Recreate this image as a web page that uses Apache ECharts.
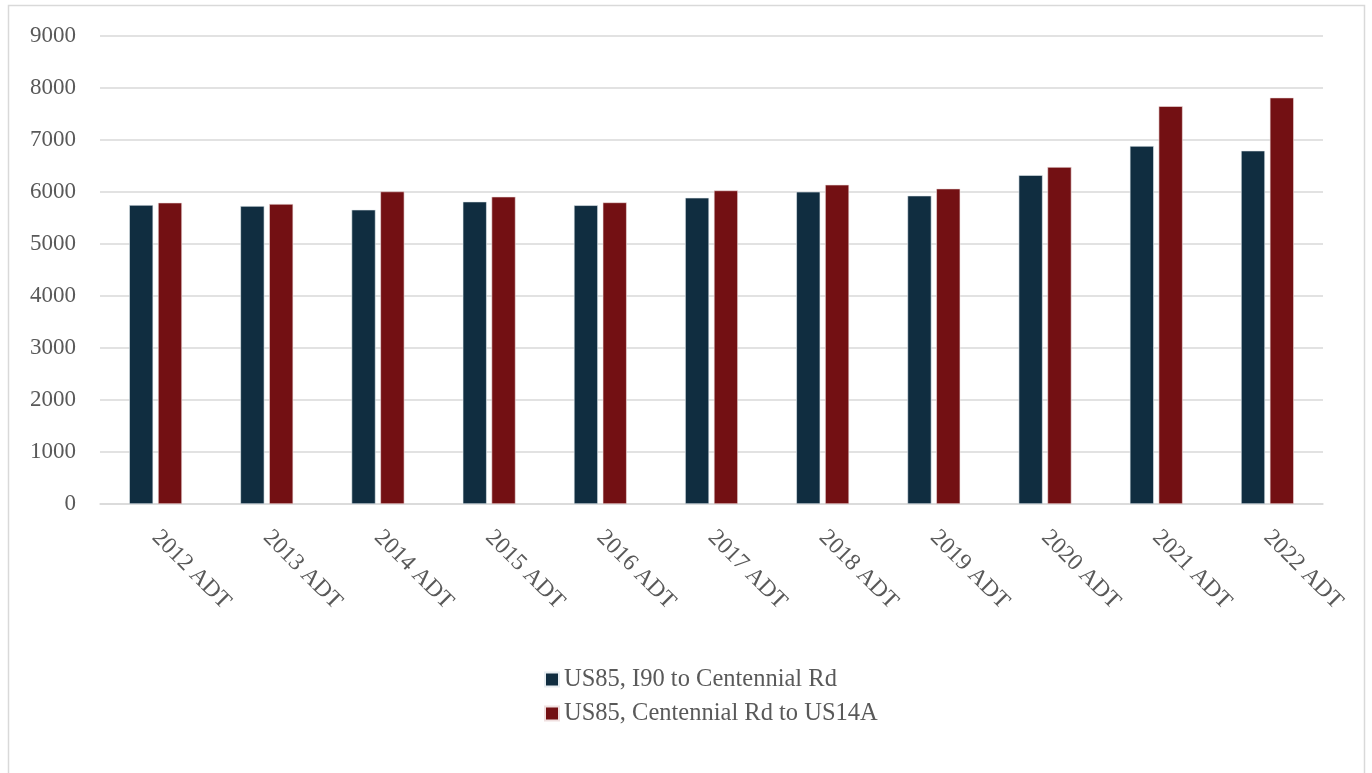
<!DOCTYPE html>
<html>
<head>
<meta charset="utf-8">
<script src="https://cdn.jsdelivr.net/npm/echarts@6/dist/echarts.min.js"></script>
<style>html,body{margin:0;padding:0;background:#fff;}#c{width:1372px;height:773px;}</style>
</head>
<body>
<div id="c"></div>
<script>
const categories = ['2012 ADT','2013 ADT','2014 ADT','2015 ADT','2016 ADT','2017 ADT','2018 ADT','2019 ADT','2020 ADT','2021 ADT','2022 ADT'];
const seriesNames = ['US85, I90 to Centennial Rd','US85, Centennial Rd to US14A'];
const i90ToCentennial = [5750,5730,5660,5815,5745,5890,6005,5930,6325,6885,6795];
const centennialToUS14A = [5795,5770,6010,5910,5800,6030,6140,6065,6480,7650,7815];
const yTicks = {min:0, max:9000, interval:1000};

const font = '"Liberation Serif", "DejaVu Serif", serif';
const chart = echarts.init(document.getElementById('c'));
chart.setOption({
  backgroundColor:'#fff',
  animation:false,
  textStyle:{fontFamily:font},
  graphic:[{type:'rect',shape:{x:8.5,y:5.5,width:1356,height:800},style:{fill:'none',stroke:'#d9d9d9',lineWidth:1.5},silent:true}],
  grid:{left:100,right:49,top:36,bottom:269},
  legend:{
    orient:'vertical',left:539,top:662,itemWidth:14,itemHeight:14,itemGap:9,
    icon:'rect',
    textStyle:{fontFamily:font,fontSize:24.5,color:'#595959'},
    data:seriesNames
  },
  xAxis:{
    type:'category',data:categories,
    axisLine:{lineStyle:{color:'#d9d9d9',width:1.5}},
    axisTick:{show:false},
    axisLabel:{rotate:-45,fontFamily:font,fontSize:23.5,color:'#595959',margin:30,interval:0}
  },
  yAxis:{
    type:'value',min:yTicks.min,max:yTicks.max,interval:yTicks.interval,
    axisLine:{show:false},axisTick:{show:false},
    splitLine:{lineStyle:{color:'#d9d9d9',width:1.5}},
    axisLabel:{fontFamily:font,fontSize:23,color:'#595959',margin:24,formatter:v=>String(v)}
  },
  series:[
    {name:seriesNames[0],type:'bar',data:i90ToCentennial,barWidth:'21.6%',barGap:'20%',
     itemStyle:{color:'#102d40',borderColor:'#e8eef2',borderWidth:0.6}},
    {name:seriesNames[1],type:'bar',data:centennialToUS14A,barWidth:'21.6%',barGap:'20%',
     itemStyle:{color:'#731013',borderColor:'#f0e0e0',borderWidth:0.6}}
  ]
});
</script>
</body>
</html>
